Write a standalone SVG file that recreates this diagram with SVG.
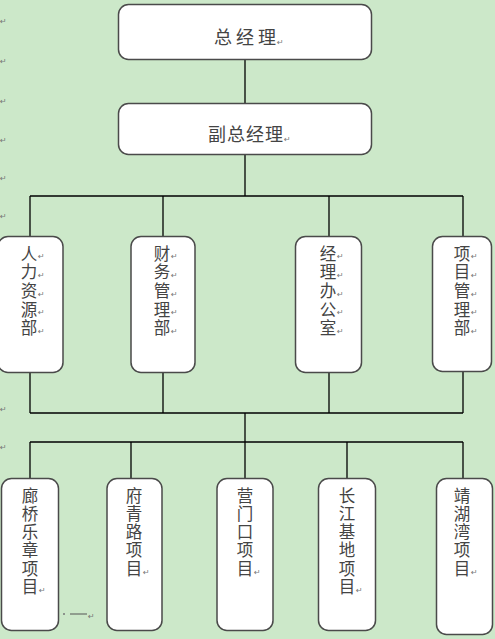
<svg xmlns="http://www.w3.org/2000/svg" width="495" height="639" viewBox="0 0 495 639">
<style>
.bg{fill:#cce8c9}
.box{fill:#ffffff;stroke:#4a4a4a;stroke-width:1.5}
.ln{stroke:#000000;stroke-width:1.3;fill:none}
.t{font-family:"Noto Sans CJK SC","Noto Sans CJK JP",sans-serif;font-size:16.5px;fill:#444444;text-anchor:middle}
.tt{font-family:"Noto Sans CJK SC","Noto Sans CJK JP",sans-serif;font-size:18px;fill:#444444;text-anchor:middle}
.m{font-family:"DejaVu Sans",sans-serif;font-size:8px;fill:#777777}
</style>
<rect class="bg" x="0" y="0" width="495" height="639"/>
<g id="margin-marks">
<text class="m" x="0" y="24">↵</text>
<text class="m" x="0" y="64">↵</text>
<text class="m" x="0" y="104">↵</text>
<text class="m" x="0" y="143">↵</text>
<text class="m" x="0" y="181">↵</text>
<text class="m" x="0" y="219">↵</text>
<text class="m" x="0" y="412">↵</text>
<text class="m" x="0" y="450">↵</text>
</g>
<g id="connectors">
<line class="ln" x1="245" y1="60" x2="245" y2="103"/>
<line class="ln" x1="245" y1="155" x2="245" y2="196"/>
<line class="ln" x1="30" y1="196" x2="463" y2="196"/>
<line class="ln" x1="30" y1="196" x2="30" y2="236"/>
<line class="ln" x1="163" y1="196" x2="163" y2="236"/>
<line class="ln" x1="329" y1="196" x2="329" y2="236"/>
<line class="ln" x1="463" y1="196" x2="463" y2="236"/>
<line class="ln" x1="30" y1="373" x2="30" y2="413"/>
<line class="ln" x1="163" y1="373" x2="163" y2="413"/>
<line class="ln" x1="329" y1="373" x2="329" y2="413"/>
<line class="ln" x1="463" y1="372" x2="463" y2="413"/>
<line class="ln" x1="30" y1="413" x2="463" y2="413"/>
<line class="ln" x1="245" y1="413" x2="245" y2="478"/>
<line class="ln" x1="30" y1="442" x2="463" y2="442"/>
<line class="ln" x1="30" y1="442" x2="30" y2="478"/>
<line class="ln" x1="131" y1="442" x2="131" y2="478"/>
<line class="ln" x1="347" y1="442" x2="347" y2="478"/>
<line class="ln" x1="463" y1="442" x2="463" y2="478"/>
</g>
<g id="n-zongjingli">
<rect class="box" x="118.5" y="4.5" width="253" height="55" rx="10"/>
<text class="tt" x="223 245 267" y="44">总经理</text>
<text class="m" x="277" y="45">↵</text>
</g>
<g id="n-fuzongjingli">
<rect class="box" x="118.5" y="103.5" width="253" height="51" rx="10"/>
<text class="tt" x="217 236 255 274" y="141">副总经理</text>
<text class="m" x="284" y="142">↵</text>
</g>
<g id="n-renli">
<rect class="box" x="-2" y="236.5" width="65" height="136" rx="10"/>
<text class="t"><tspan x="29" y="259.5">人</tspan><tspan x="29" y="278.2">力</tspan><tspan x="29" y="296.9">资</tspan><tspan x="29" y="315.6">源</tspan><tspan x="29" y="334.3">部</tspan></text>
<text class="m"><tspan x="38" y="259">↵</tspan><tspan x="38" y="278">↵</tspan><tspan x="38" y="296.5">↵</tspan><tspan x="38" y="315">↵</tspan><tspan x="38" y="334">↵</tspan></text>
</g>
<g id="n-caiwu">
<rect class="box" x="131" y="236.5" width="64" height="136" rx="10"/>
<text class="t"><tspan x="162" y="259.5">财</tspan><tspan x="162" y="278.2">务</tspan><tspan x="162" y="296.9">管</tspan><tspan x="162" y="315.6">理</tspan><tspan x="162" y="334.3">部</tspan></text>
<text class="m"><tspan x="171" y="259">↵</tspan><tspan x="171" y="278">↵</tspan><tspan x="171" y="296.5">↵</tspan><tspan x="171" y="315">↵</tspan><tspan x="171" y="334">↵</tspan></text>
</g>
<g id="n-jingliban">
<rect class="box" x="295.5" y="236.5" width="66" height="136" rx="10"/>
<text class="t"><tspan x="328" y="259.5">经</tspan><tspan x="328" y="278.2">理</tspan><tspan x="328" y="296.9">办</tspan><tspan x="328" y="315.6">公</tspan><tspan x="328" y="334.3">室</tspan></text>
<text class="m"><tspan x="337" y="259">↵</tspan><tspan x="337" y="278">↵</tspan><tspan x="337" y="296.5">↵</tspan><tspan x="337" y="315">↵</tspan><tspan x="337" y="334">↵</tspan></text>
</g>
<g id="n-xiangmuguanli">
<rect class="box" x="432.5" y="236.5" width="59" height="135" rx="10"/>
<text class="t"><tspan x="462" y="259.5">项</tspan><tspan x="462" y="278.2">目</tspan><tspan x="462" y="296.9">管</tspan><tspan x="462" y="315.6">理</tspan><tspan x="462" y="334.3">部</tspan></text>
<text class="m"><tspan x="471" y="259">↵</tspan><tspan x="471" y="278">↵</tspan><tspan x="471" y="296.5">↵</tspan><tspan x="471" y="315">↵</tspan><tspan x="471" y="334">↵</tspan></text>
</g>
<g id="n-langqiao">
<rect class="box" x="1.5" y="478.5" width="57" height="152" rx="10"/>
<text class="t"><tspan x="30" y="501.5">廊</tspan><tspan x="30" y="519.8">桥</tspan><tspan x="30" y="538.1">乐</tspan><tspan x="30" y="556.4">章</tspan><tspan x="30" y="574.7">项</tspan><tspan x="30" y="593">目</tspan></text>
<text class="m" x="39" y="593">↵</text>
</g>
<g id="n-fuqinglu">
<rect class="box" x="107" y="478.5" width="55" height="152" rx="10"/>
<text class="t"><tspan x="134" y="501.5">府</tspan><tspan x="134" y="519.8">青</tspan><tspan x="134" y="538.1">路</tspan><tspan x="134" y="556.4">项</tspan><tspan x="134" y="574.7">目</tspan></text>
<text class="m" x="143" y="575">↵</text>
</g>
<g id="n-yingmenkou">
<rect class="box" x="217" y="478.5" width="56" height="152" rx="10"/>
<text class="t"><tspan x="245" y="501.5">营</tspan><tspan x="245" y="519.8">门</tspan><tspan x="245" y="538.1">口</tspan><tspan x="245" y="556.4">项</tspan><tspan x="245" y="574.7">目</tspan></text>
<text class="m" x="254" y="575">↵</text>
</g>
<g id="n-changjiang">
<rect class="box" x="318.5" y="478.5" width="57" height="152" rx="10"/>
<text class="t"><tspan x="347" y="501.5">长</tspan><tspan x="347" y="519.8">江</tspan><tspan x="347" y="538.1">基</tspan><tspan x="347" y="556.4">地</tspan><tspan x="347" y="574.7">项</tspan><tspan x="347" y="593">目</tspan></text>
<text class="m" x="356" y="593">↵</text>
</g>
<g id="n-jinghuwan">
<rect class="box" x="436.5" y="478.5" width="56" height="156" rx="10"/>
<text class="t"><tspan x="462" y="501.5">靖</tspan><tspan x="462" y="519.8">湖</tspan><tspan x="462" y="538.1">湾</tspan><tspan x="462" y="556.4">项</tspan><tspan x="462" y="574.7">目</tspan></text>
<text class="m" x="471" y="575">↵</text>
</g>
<g id="stray-mark">
<circle cx="64" cy="614" r="1" fill="#777777"/>
<line x1="70" y1="614" x2="87" y2="614" stroke="#555555" stroke-width="1"/>
<text class="m" x="88" y="619">↵</text>
</g>
</svg>
